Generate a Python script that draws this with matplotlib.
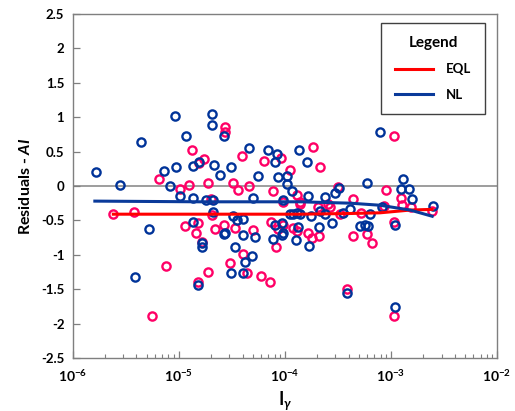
import matplotlib
matplotlib.use("Agg")
import matplotlib.pyplot as plt
from matplotlib.ticker import FixedLocator, FixedFormatter, LogLocator, NullFormatter

# ---- data ----
nl_x = [1.65e-6, 2.79e-6, 7.3e-6, 8.3e-6, 9.2e-6, 2.05e-5, 2.05e-5, 4.4e-6, 1.17e-5, 9.4e-6,
        1.37e-5, 1.56e-5, 2.15e-5, 2.45e-5, 1.03e-5, 1.37e-5, 1.81e-5, 2.12e-5, 2.09e-5, 1.37e-5,
        5.2e-6, 2.69e-5, 1.65e-5, 3.87e-6, 1.53e-5, 2.67e-5, 4.63e-5, 6.9e-5, 8.5e-5, 8.1e-5,
        1.37e-4, 1.61e-4, 3.13e-5, 5.6e-5, 8.55e-5, 1.06e-4, 1.06e-4, 1.17e-4, 5.06e-5, 9.7e-5,
        1.65e-4, 2.37e-4, 2.98e-4, 3.25e-4, 1.12e-4, 1.2e-4, 1.29e-4, 1.39e-4, 1.77e-4, 2.13e-4,
        2.4e-4, 3.5e-4, 3.27e-5, 3.52e-5, 4.0e-5, 2.73e-5, 4.07e-5, 5.25e-5, 8.1e-5, 9.4e-5,
        9.4e-5, 7.7e-5, 1.34e-4, 2.11e-4, 2.77e-4, 1.28e-4, 1.69e-4, 3.4e-5, 1.65e-5, 4.88e-5,
        4.22e-5, 3.1e-5, 4.0e-5, 3.85e-4, 7.9e-4, 6.0e-4, 1.3e-3, 1.24e-3, 1.47e-3, 1.58e-3,
        2.47e-3, 4.13e-4, 8.2e-4, 6.3e-4, 5.1e-4, 5.66e-4, 6.15e-4, 1.1e-3, 1.1e-3, 9.7e-5]
nl_y = [0.21, 0.02, 0.22, 0.0, 1.01, 1.05, 0.89, 0.64, 0.72, 0.27,
        0.29, 0.35, 0.31, 0.16, -0.15, -0.17, -0.20, -0.20, -0.38, -0.53,
        -0.63, -0.70, -0.83, -1.33, -1.44, 0.73, 0.55, 0.53, 0.47, 0.35,
        0.52, 0.35, 0.27, 0.14, 0.13, 0.15, 0.03, -0.07, -0.17, -0.20,
        -0.15, -0.16, -0.10, -0.03, -0.41, -0.41, -0.40, -0.41, -0.44, -0.36,
        -0.41, -0.39, -0.44, -0.49, -0.48, -0.69, -0.71, -0.74, -0.57, -0.54,
        -0.71, -0.77, -0.60, -0.60, -0.54, -0.78, -0.87, -0.89, -0.88, -1.02,
        -1.10, -1.26, -1.26, -1.55, 0.78, 0.05, 0.10, -0.04, -0.05, -0.19,
        -0.29, -0.34, -0.31, -0.41, -0.58, -0.57, -0.58, -0.57, -1.76, -0.68]

eql_x = [6.56e-6, 2.42e-6, 3.81e-6, 7.6e-6, 5.6e-6, 1.89e-5, 1.51e-5, 1.46e-5, 3.05e-5, 2.72e-5,
         2.75e-5, 1.34e-5, 1.75e-5, 1.55e-5, 1.26e-5, 1.88e-5, 1.02e-5, 1.15e-5, 1.53e-5, 2.2e-5,
         2.69e-5, 2.02e-5, 2.05e-5, 3.93e-5, 9.2e-5, 6.3e-5, 1.86e-4, 2.17e-4, 3.27e-5, 3.63e-5,
         4.63e-5, 1.12e-4, 7.7e-5, 1.3e-4, 1.39e-4, 2.07e-4, 2.53e-4, 3.32e-4, 3.4e-5, 5.06e-5,
         7.4e-5, 8.7e-5, 8.3e-5, 1.3e-4, 1.67e-4, 2.08e-4, 1.65e-5, 4.07e-5, 4.38e-5, 5.98e-5,
         7.3e-5, 3.85e-4, 1.08e-3, 8.9e-4, 1.25e-3, 1.26e-3, 1.56e-3, 2.44e-3, 4.38e-4, 2.67e-4,
         8.55e-4, 5.2e-4, 1.08e-3, 4.36e-4, 6.0e-4, 6.6e-4, 1.08e-3, 3.18e-4, 1.8e-4, 9.7e-5,
         1.2e-4, 1.39e-4, 9.7e-5]
eql_y = [0.10, -0.41, -0.38, -1.16, -1.89, -1.25, -1.39, -0.69, -1.12, 0.85,
         0.79, 0.53, 0.39, 0.33, 0.01, 0.04, -0.05, -0.58, -0.54, -0.63,
         -0.57, -0.19, -0.42, 0.44, 0.40, 0.36, 0.56, 0.28, 0.05, -0.06,
         0.0, 0.23, -0.07, -0.13, -0.26, -0.30, -0.26, -0.41, -0.61, -0.64,
         -0.52, -0.63, -0.89, -0.66, -0.68, -0.72, -0.81, -0.99, -1.26, -1.31,
         -1.40, -1.50, 0.72, -0.06, -0.18, -0.28, -0.30, -0.37, -0.19, -0.30,
         -0.29, -0.39, -0.53, -0.72, -0.70, -0.83, -1.89, -0.02, -0.76, -0.57,
         -0.61, -0.23, -0.23]

nl_line_x = [1.62e-6, 1.58e-5, 1.39e-4, 4.13e-4, 7.9e-4, 1.52e-3, 2.45e-3]
nl_line_y = [-0.22, -0.23, -0.23, -0.25, -0.28, -0.35, -0.44]
eql_line_x = [2.42e-6, 1.39e-4, 4.13e-4, 7.9e-4, 1.52e-3, 2.45e-3]
eql_line_y = [-0.41, -0.41, -0.40, -0.39, -0.35, -0.34]

x_ticks = [1e-6, 1e-5, 1e-4, 1e-3, 1e-2]
x_tick_labels = [r'$\mathbf{10^{-6}}$', r'$\mathbf{10^{-5}}$', r'$\mathbf{10^{-4}}$',
                 r'$\mathbf{10^{-3}}$', r'$\mathbf{10^{-2}}$']
y_ticks = [-2.5, -2, -1.5, -1, -0.5, 0, 0.5, 1, 1.5, 2, 2.5]
y_tick_labels = ['-2.5', '-2', '-1.5', '-1', '-0.5', '0', '0.5', '1', '1.5', '2', '2.5']

# ---- style ----
FONT = 'Lato'
plt.rcParams['font.family'] = [FONT, 'DejaVu Sans']
plt.rcParams['mathtext.fontset'] = 'custom'
plt.rcParams['mathtext.rm'] = FONT
plt.rcParams['mathtext.bf'] = FONT + ':bold'
plt.rcParams['mathtext.it'] = FONT + ':italic:bold'

PINK = '#FF0066'
BLUE = '#003399'
RED = '#FF0000'
LBLUE = '#0A3A9A'
SPINE = '#7F7F7F'

fig = plt.figure(figsize=(5.15, 4.11), dpi=100)
ax = fig.add_axes([0.141, 0.129, 0.824, 0.837])

ax.axhline(0, color='#8C8C8C', lw=1.2, zorder=1)

ax.plot(eql_x, eql_y, linestyle='none', marker='o', markersize=5.9,
        markerfacecolor='none', markeredgecolor=PINK, markeredgewidth=1.7, zorder=2)
ax.plot(nl_x, nl_y, linestyle='none', marker='o', markersize=5.9,
        markerfacecolor='none', markeredgecolor=BLUE, markeredgewidth=1.7, zorder=3)

ax.plot(eql_line_x, eql_line_y, color=RED, lw=2.2, label='EQL', zorder=4)
ax.plot(nl_line_x, nl_line_y, color=LBLUE, lw=2.2, label='NL', zorder=4)

ax.set_xscale('log')
ax.set_xlim(1e-6, 1e-2)
ax.set_ylim(-2.5, 2.5)

ax.xaxis.set_major_locator(FixedLocator(x_ticks))
ax.xaxis.set_major_formatter(FixedFormatter(x_tick_labels))
ax.xaxis.set_minor_locator(LogLocator(base=10, subs=range(2, 10), numticks=20))
ax.xaxis.set_minor_formatter(NullFormatter())
ax.yaxis.set_major_locator(FixedLocator(y_ticks))
ax.yaxis.set_major_formatter(FixedFormatter(y_tick_labels))

ax.tick_params(axis='both', which='major', direction='in', length=5, width=0.9,
               color=SPINE, labelsize=9.5, pad=6)
ax.tick_params(axis='x', which='minor', direction='in', length=3, width=0.8, color=SPINE)
ax.tick_params(axis='y', which='minor', left=False)
ax.tick_params(axis='x', which='major', labelsize=10, pad=7)
for lab in ax.get_yticklabels():
    lab.set_fontweight('bold')
for lab in ax.get_xticklabels():
    lab.set_fontweight('bold')

for s in ax.spines.values():
    s.set_color(SPINE)
    s.set_linewidth(1.0)

ax.set_ylabel(r'Residuals - $\mathit{AI}$', fontsize=11.5, fontweight='bold', labelpad=6)
ax.set_xlabel(r'$\mathbf{I}_{\gamma}$', fontsize=13, labelpad=4)

leg = ax.legend(loc='upper right', bbox_to_anchor=(0.98, 0.985), title='Legend',
                fancybox=False, framealpha=1, edgecolor='#404040', handlelength=2.9,
                borderpad=1.0, labelspacing=1.0, handletextpad=1.0, borderaxespad=0.3,
                prop={'weight': 'bold', 'size': 9.5})
leg.get_title().set_fontweight('bold')
leg.get_title().set_fontsize(11)
leg.get_frame().set_linewidth(1.0)
leg._legend_box.align = 'center'

fig.savefig('out.png', dpi=100)
